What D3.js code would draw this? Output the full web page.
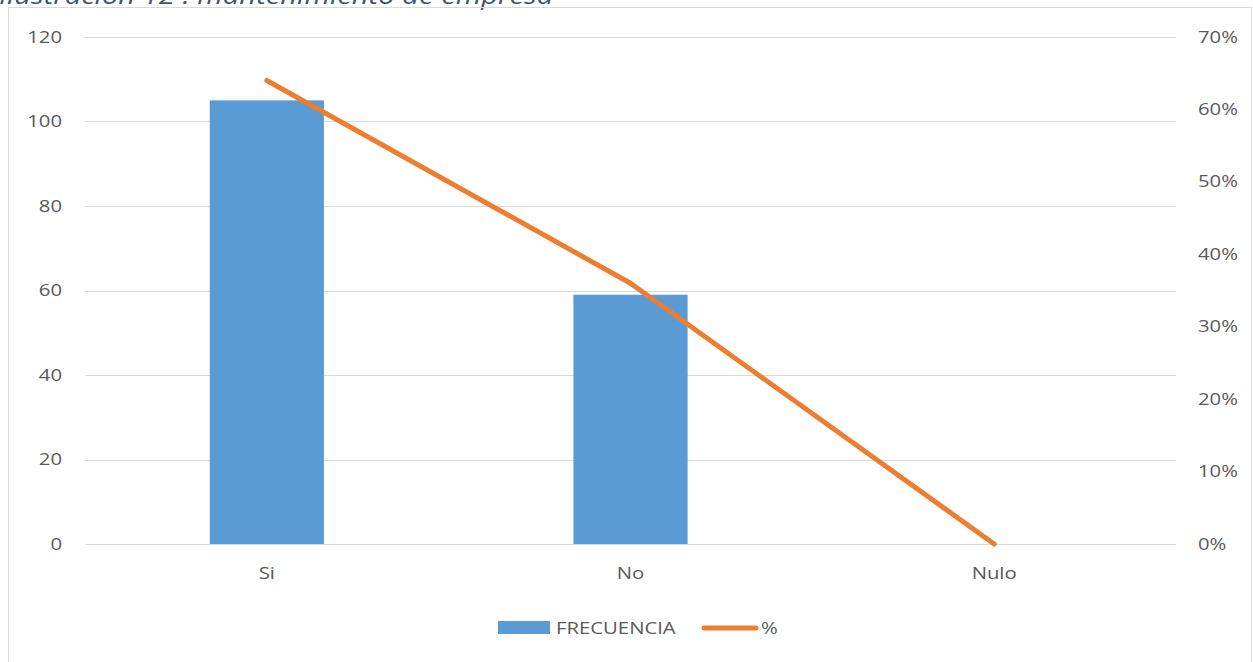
<!DOCTYPE html>
<html><head><meta charset="utf-8">
<script src="https://cdn.jsdelivr.net/npm/d3@7"></script>
<style>body{margin:0;background:#fff}svg{display:block}</style>
</head><body>
<script>
const categories = ["Si", "No", "Nulo"];
const frecuencia = [105, 59, 0];
const porcentaje = [0.64, 0.36, 0];
const leftTicks = [0, 20, 40, 60, 80, 100, 120];
const rightTicks = [0, 0.1, 0.2, 0.3, 0.4, 0.5, 0.6, 0.7];
const titleText = "Ilustración 12 : mantenimiento de empresa";

const W = 1253, H = 662;
const SX = 1.27;
const svg = d3.select("body").append("svg").attr("width", W).attr("height", H);
const font = "'Open Sans', Lato, sans-serif";

svg.append("text").attr("transform", `translate(-1,4) scale(${SX},1)`).attr("font-family", font)
  .attr("font-style", "italic").attr("font-size", 23).attr("fill", "#44546A").text(titleText);

svg.append("rect").attr("x", 8.5).attr("y", 7.5).attr("width", W - 10).attr("height", H)
  .attr("fill", "none").attr("stroke", "#d9d9d9");

const x0 = 85, x1 = 1176, yTop = 37, yBot = 544;
const x = d3.scaleBand().domain(categories).range([x0, x1]).padding(0);
const yL = d3.scaleLinear().domain([0, 120]).range([yBot, yTop]);
const yR = d3.scaleLinear().domain([0, 0.7]).range([yBot, yTop]);

svg.append("g").selectAll("line").data(leftTicks).join("line")
  .attr("x1", x0).attr("x2", x1).attr("y1", d => Math.round(yL(d)) + 0.5).attr("y2", d => Math.round(yL(d)) + 0.5)
  .attr("stroke", "#d9d9d9").attr("stroke-width", 1);

const axL = svg.append("g").attr("transform", `translate(${x0 - 23},0)`)
  .call(d3.axisLeft(yL).tickValues(leftTicks).tickSize(0).tickPadding(0));
const axR = svg.append("g").attr("transform", `translate(${x1 + 22},0)`)
  .call(d3.axisRight(yR).tickValues(rightTicks).tickSize(0).tickPadding(0).tickFormat(d3.format(".0%")));
const axX = svg.append("g").attr("transform", `translate(0,${yBot + 24})`)
  .call(d3.axisBottom(x).tickSize(0).tickPadding(0));
[axL, axR, axX].forEach(a => {
  a.select(".domain").remove();
  a.selectAll("text").attr("font-family", font).attr("font-size", 16).attr("fill", "#595959")
    .attr("transform", `scale(${SX},1)`);
});
axX.selectAll("text").attr("dy", "0.71em");

const bw = x.bandwidth() * 0.314;
svg.append("g").selectAll("rect").data(frecuencia).join("rect")
  .attr("x", (d, i) => x(categories[i]) + x.bandwidth() / 2 - bw / 2)
  .attr("y", d => yL(d)).attr("width", bw).attr("height", d => yBot - yL(d))
  .attr("fill", "#5B9BD5");

const line = d3.line().x((d, i) => x(categories[i]) + x.bandwidth() / 2).y(d => yR(d));
svg.append("path").datum(porcentaje).attr("d", line).attr("fill", "none")
  .attr("stroke", "#ED7D31").attr("stroke-width", 5).attr("stroke-linecap", "round").attr("stroke-linejoin", "round");

const lg = svg.append("g");
lg.append("rect").attr("x", 498).attr("y", 621).attr("width", 52).attr("height", 13).attr("fill", "#5B9BD5");
lg.append("text").attr("transform", `translate(556,634) scale(${SX},1)`).attr("font-family", font).attr("font-size", 16).attr("fill", "#595959").text("FRECUENCIA");
lg.append("line").attr("x1", 704).attr("x2", 756).attr("y1", 628).attr("y2", 628)
  .attr("stroke", "#ED7D31").attr("stroke-width", 5).attr("stroke-linecap", "round");
lg.append("text").attr("transform", `translate(761,634) scale(${SX},1)`).attr("font-family", font).attr("font-size", 16).attr("fill", "#595959").text("%");
</script>
</body></html>
